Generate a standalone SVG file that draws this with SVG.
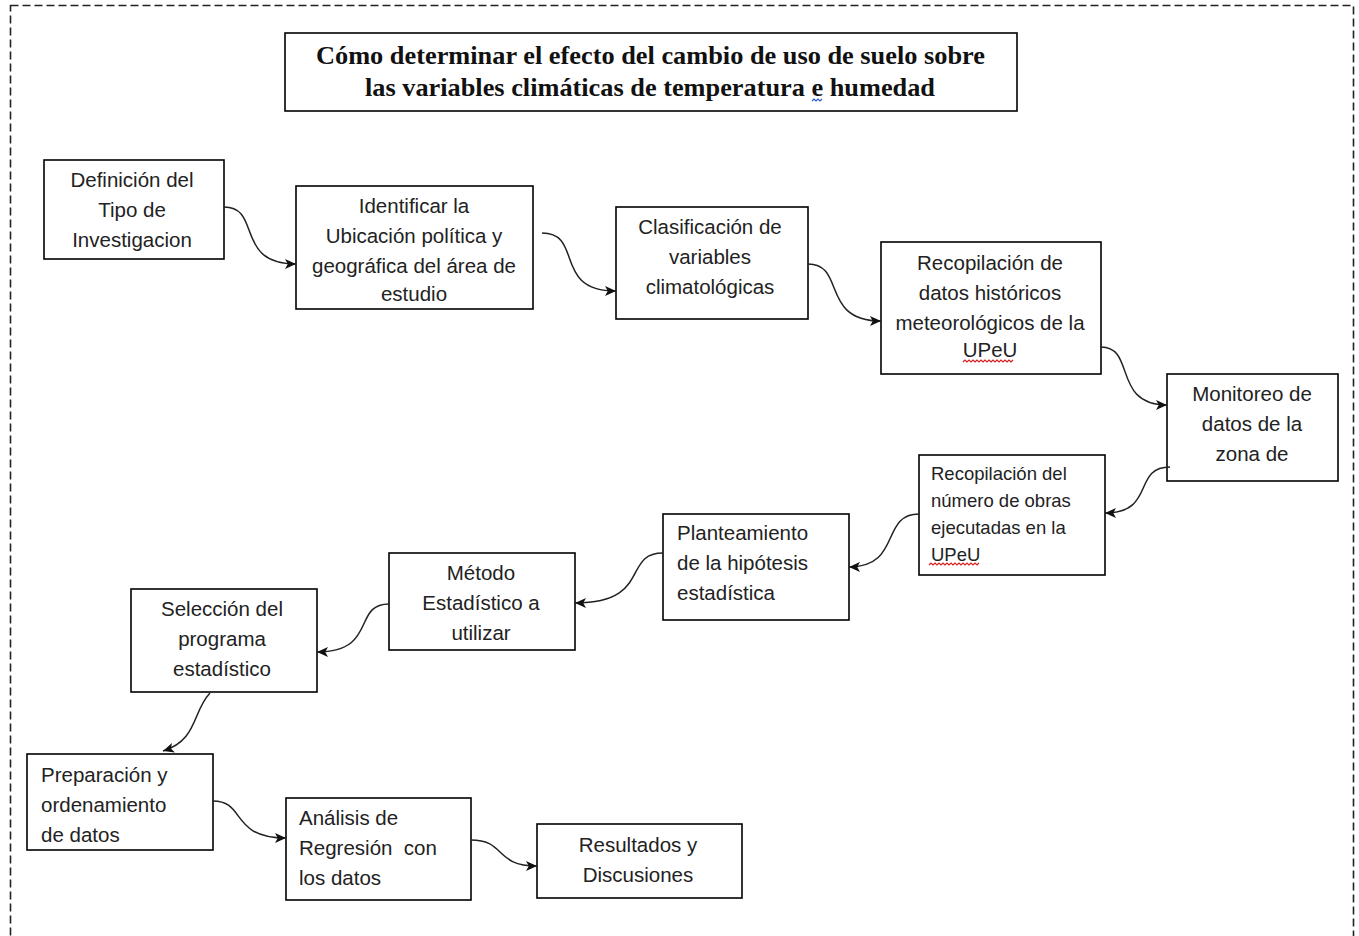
<svg xmlns="http://www.w3.org/2000/svg" width="1359" height="936" viewBox="0 0 1359 936">
  <style>
    .box { fill: #ffffff; stroke: #000000; stroke-width: 1.6; }
    .txt { font-family: "Liberation Sans", Arial, sans-serif; font-size: 20.5px; fill: #222222; }
    .mid { text-anchor: middle; }
    .small { font-size: 18.5px; }
    .title { font-family: "Liberation Serif", "Times New Roman", serif; font-size: 25px; font-weight: bold; fill: #111111; }
    .link { fill: none; stroke: #222222; stroke-width: 1.5; marker-end: url(#arrow); }
    .squig { fill: none; stroke-width: 1.2; }
  </style>
  <defs>
    <marker id="arrow" viewBox="0 0 10 10" refX="10" refY="5" markerWidth="11" markerHeight="11" markerUnits="userSpaceOnUse" orient="auto">
      <path d="M0,0.5 L10,5 L0,9.5 L2.5,5 Z" fill="#111111"/>
    </marker>
  </defs>

  <rect width="1359" height="936" fill="#ffffff"/>

  <!-- dashed page frame -->
  <rect x="10.5" y="5.5" width="1343" height="940" fill="none" stroke="#222222" stroke-width="1.6" stroke-dasharray="8 4"/>

  <!-- title -->
  <g id="title">
    <rect class="box" x="285" y="33" width="732" height="78"/>
    <text class="title" x="316" y="64" textLength="669" lengthAdjust="spacingAndGlyphs">Cómo determinar el efecto del cambio de uso de suelo sobre</text>
    <text class="title" x="365" y="96" textLength="570" lengthAdjust="spacingAndGlyphs">las variables climáticas de temperatura e humedad</text>
    <path class="squig" stroke="#2a5bd7" d="M812,101 l2,-2 l2,2 l2,-2 l2,2 l2,-2"/>
  </g>

  <!-- process steps -->
  <g id="n1">
    <rect class="box" x="44" y="160" width="180" height="99"/>
    <text class="txt mid" x="132" y="187">Definición del</text>
    <text class="txt mid" x="132" y="217">Tipo de</text>
    <text class="txt mid" x="132" y="247">Investigacion</text>
  </g>
  <g id="n2">
    <rect class="box" x="296" y="186" width="237" height="123"/>
    <text class="txt mid" x="414" y="213">Identificar la</text>
    <text class="txt mid" x="414" y="243">Ubicación política y</text>
    <text class="txt mid" x="414" y="273">geográfica del área de</text>
    <text class="txt mid" x="414" y="301">estudio</text>
  </g>
  <g id="n3">
    <rect class="box" x="616" y="207" width="192" height="112"/>
    <text class="txt mid" x="710" y="234">Clasificación de</text>
    <text class="txt mid" x="710" y="264">variables</text>
    <text class="txt mid" x="710" y="294">climatológicas</text>
  </g>
  <g id="n4">
    <rect class="box" x="881" y="242" width="220" height="132"/>
    <text class="txt mid" x="990" y="270">Recopilación de</text>
    <text class="txt mid" x="990" y="300">datos históricos</text>
    <text class="txt mid" x="990" y="330">meteorológicos de la</text>
    <text class="txt mid" x="990" y="357">UPeU</text>
    <path class="squig" stroke="#d42020" d="M963,362 l2,-2 l2,2 l2,-2 l2,2 l2,-2 l2,2 l2,-2 l2,2 l2,-2 l2,2 l2,-2 l2,2 l2,-2 l2,2 l2,-2 l2,2 l2,-2 l2,2 l2,-2 l2,2 l2,-2 l2,2 l2,-2 l2,2 l2,-2"/>
  </g>
  <g id="n5">
    <rect class="box" x="1167" y="374" width="171" height="107"/>
    <text class="txt mid" x="1252" y="401">Monitoreo de</text>
    <text class="txt mid" x="1252" y="431">datos de la</text>
    <text class="txt mid" x="1252" y="461">zona de</text>
  </g>
  <g id="n6">
    <rect class="box" x="919" y="455" width="186" height="120"/>
    <text class="txt small" x="931" y="480">Recopilación del</text>
    <text class="txt small" x="931" y="507">número de obras</text>
    <text class="txt small" x="931" y="534">ejecutadas en la</text>
    <text class="txt small" x="931" y="561">UPeU</text>
    <path class="squig" stroke="#d42020" d="M929,565 l2,-2 l2,2 l2,-2 l2,2 l2,-2 l2,2 l2,-2 l2,2 l2,-2 l2,2 l2,-2 l2,2 l2,-2 l2,2 l2,-2 l2,2 l2,-2 l2,2 l2,-2 l2,2 l2,-2 l2,2 l2,-2 l2,2 l2,-2"/>
  </g>
  <g id="n7">
    <rect class="box" x="663" y="514" width="186" height="106"/>
    <text class="txt" x="677" y="540">Planteamiento</text>
    <text class="txt" x="677" y="570">de la hipótesis</text>
    <text class="txt" x="677" y="600">estadística</text>
  </g>
  <g id="n8">
    <rect class="box" x="389" y="553" width="186" height="97"/>
    <text class="txt mid" x="481" y="580">Método</text>
    <text class="txt mid" x="481" y="610">Estadístico a</text>
    <text class="txt mid" x="481" y="640">utilizar</text>
  </g>
  <g id="n9">
    <rect class="box" x="131" y="589" width="186" height="103"/>
    <text class="txt mid" x="222" y="616">Selección del</text>
    <text class="txt mid" x="222" y="646">programa</text>
    <text class="txt mid" x="222" y="676">estadístico</text>
  </g>
  <g id="n10">
    <rect class="box" x="27" y="754" width="186" height="96"/>
    <text class="txt" x="41" y="782">Preparación y</text>
    <text class="txt" x="41" y="812">ordenamiento</text>
    <text class="txt" x="41" y="842">de datos</text>
  </g>
  <g id="n11">
    <rect class="box" x="286" y="798" width="185" height="102"/>
    <text class="txt" x="299" y="825">Análisis de</text>
    <text class="txt" x="299" y="855" xml:space="preserve">Regresión  con</text>
    <text class="txt" x="299" y="885">los datos</text>
  </g>
  <g id="n12">
    <rect class="box" x="537" y="824" width="205" height="74"/>
    <text class="txt mid" x="638" y="852">Resultados y</text>
    <text class="txt mid" x="638" y="882">Discusiones</text>
  </g>

  <!-- connectors -->
  <g id="connectors">
    <path class="link" d="M224,207 C262,207 234,264 296,264"/>
    <path class="link" d="M542,233 C584,233 552,291 616,291"/>
    <path class="link" d="M808,264 C846,264 820,321 881,321"/>
    <path class="link" d="M1101,347 C1136,347 1112,405 1167,405"/>
    <path class="link" d="M1170,467 C1132,467 1156,513 1105,513"/>
    <path class="link" d="M919,514 C880,514 902,567 849,567"/>
    <path class="link" d="M663,553 C622,553 652,603 575,603"/>
    <path class="link" d="M389,604 C352,604 378,652 317,652"/>
    <path class="link" d="M210,693 C192,712 198,740 163,751"/>
    <path class="link" d="M213,801 C246,801 230,838 286,838"/>
    <path class="link" d="M471,840 C506,840 494,866 537,866"/>
  </g>
</svg>
